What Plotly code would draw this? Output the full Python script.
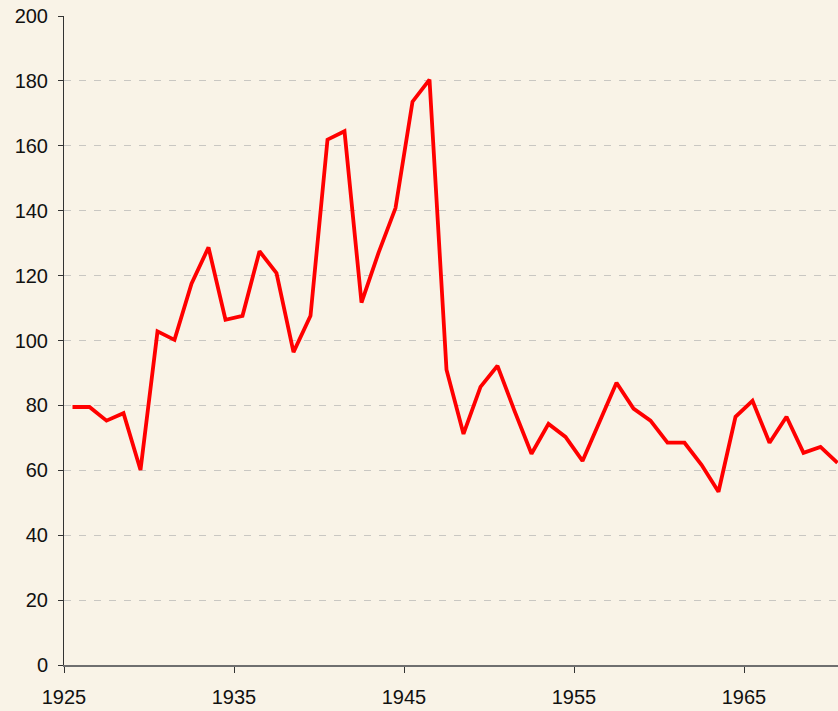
import plotly.graph_objects as go

years = list(range(1925, 1971))
values = [79.5, 79.5, 75.3, 77.6, 60.1, 102.8, 100.2, 117.5, 128.7, 106.4,
          107.6, 127.5, 120.8, 96.4, 107.6, 161.9, 164.5, 111.7, 127.0, 140.8,
          173.6, 180.4, 91.0, 71.2, 85.7, 92.2, 78.3, 65.1, 74.3, 70.3,
          62.9, 75.0, 87.0, 79.0, 75.3, 68.5, 68.5, 61.7, 53.4, 76.5,
          81.4, 68.5, 76.5, 65.4, 67.2, 62.3]
x_ticks = [1925, 1935, 1945, 1955, 1965]
y_ticks = [0, 20, 40, 60, 80, 100, 120, 140, 160, 180, 200]

bg = "#F9F3E7"
fig = go.Figure()
fig.add_trace(go.Scatter(
    x=[y + 0.5 for y in years], y=values, mode="lines",
    line=dict(color="#FF0000", width=3.8), hoverinfo="skip", cliponaxis=False))

fig.update_layout(
    width=838, height=711,
    paper_bgcolor=bg, plot_bgcolor=bg,
    margin=dict(l=64, r=0, t=16, b=46),
    showlegend=False,
    font=dict(family="Liberation Sans, Arial, sans-serif", size=20, color="#111111"),
)
fig.update_xaxes(
    range=[1925, 1925 + 774 / 17], tickvals=x_ticks, ticktext=[str(t) for t in x_ticks],
    showgrid=False, zeroline=False,
    showline=True, linecolor="#6f6f6f", linewidth=1.5,
    ticks="outside", ticklen=6, tickcolor="#333333", tickwidth=1,
    ticklabelstandoff=7,
)
fig.update_yaxes(
    range=[0, 200], tickvals=y_ticks,
    showgrid=True, gridcolor="#C9C7C2", gridwidth=1, griddash="7px,8px",
    zeroline=False,
    showline=True, linecolor="#333333", linewidth=1,
    ticks="outside", ticklen=5, tickcolor="#333333", tickwidth=1,
    ticklabelstandoff=6,
)
fig.write_html(
    "out.html",
    config={"displayModeBar": False},
    post_script="document.body.style.margin='0';document.body.style.background='%s';" % bg,
)
